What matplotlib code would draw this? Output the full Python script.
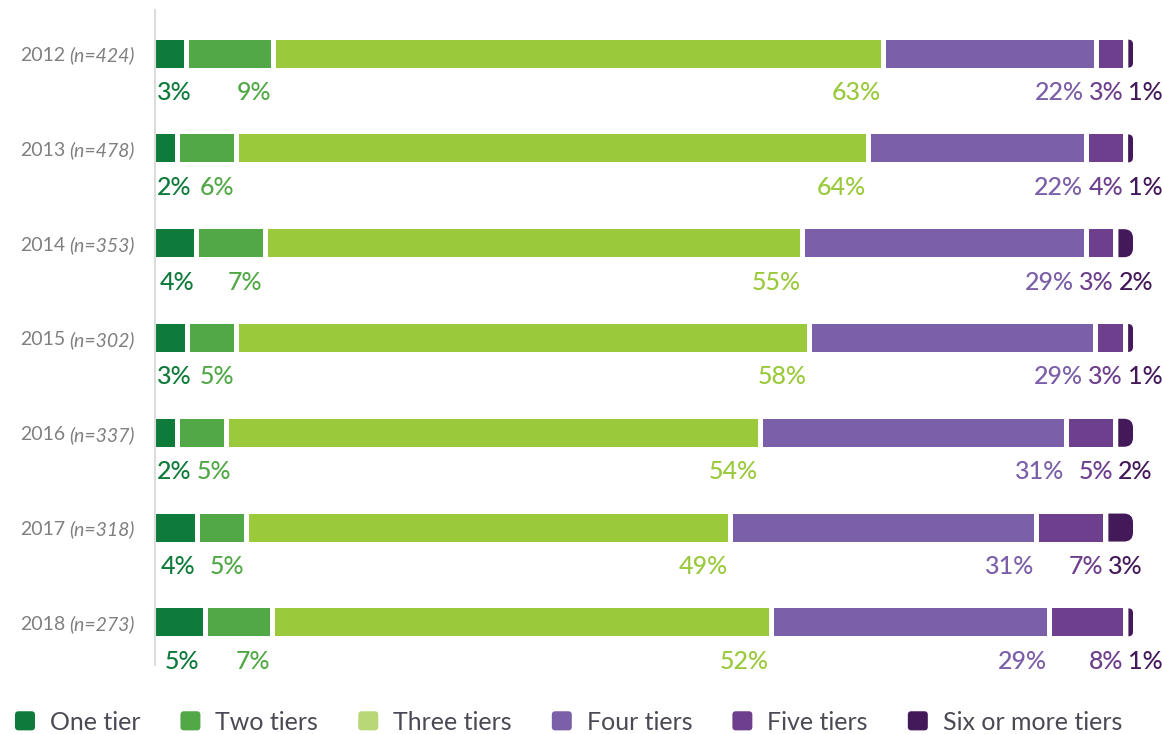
import matplotlib
matplotlib.use("Agg")
import matplotlib.pyplot as plt
from matplotlib.patches import PathPatch, FancyBboxPatch, Patch, Rectangle
from matplotlib.path import Path
from matplotlib.legend_handler import HandlerPatch
import numpy as np

plt.rcParams["font.family"] = ["Lato", "DejaVu Sans"]

# ── data ───────────────────────────────────────────
years = ["2012", "2013", "2014", "2015", "2016", "2017", "2018"]
n_counts = [424, 478, 353, 302, 337, 318, 273]
tiers = ["One tier", "Two tiers", "Three tiers", "Four tiers",
         "Five tiers", "Six or more tiers"]
one_tier = [3, 2, 4, 3, 2, 4, 5]
two_tiers = [9, 6, 7, 5, 5, 5, 7]
three_tiers = [63, 64, 55, 58, 54, 49, 52]
four_tiers = [22, 22, 29, 29, 31, 31, 29]
five_tiers = [3, 4, 3, 3, 5, 7, 8]
six_tiers = [1, 1, 2, 1, 2, 3, 1]

bar_colors = ["#0f7b3a", "#52a846", "#9aca3c", "#7b5fa8", "#6e3f8c", "#43195a"]
legend_colors = ["#0f7b3a", "#52a846", "#b8d878", "#7b5fa8", "#6e3f8c", "#43195a"]

# ── layout ─────────────────────────────────────────
W, H = 1162, 734
fig = plt.figure(figsize=(W / 100, H / 100), dpi=100)
ax = fig.add_axes([155 / W, (H - 665) / H, 978 / W, 655 / H])
ax.set_xlim(0, 100)
ax.set_ylim(6.45, -0.46)
for s in ["top", "right", "bottom"]:
    ax.spines[s].set_visible(False)
ax.spines["left"].set_color("#dcdcdc")
ax.spines["left"].set_linewidth(1.5)
ax.spines["left"].set_zorder(5)
ax.set_xticks([])
ax.set_yticks([])

px_x = 978 / 100.0
px_y = 655 / 6.91
gap = 5 / px_x
bar_h = 28 / px_y
label_dy = 39 / px_y

renderer = fig.canvas.get_renderer()
data = np.array([one_tier, two_tiers, three_tiers, four_tiers,
                 five_tiers, six_tiers], dtype=float).T

for row, vals in enumerate(data):
    shares = vals / vals.sum() * 100
    cum = np.concatenate([[0], np.cumsum(shares)])
    y0, y1 = row - bar_h / 2, row + bar_h / 2
    starts, ends = [], []
    for i, share in enumerate(shares):
        x0 = cum[i] + (gap if i > 0 else 0)
        x1 = cum[i + 1]
        starts.append(x0)
        ends.append(x1)
        if i < len(shares) - 1:
            ax.add_patch(Rectangle((x0, y0), x1 - x0, bar_h,
                                   facecolor=bar_colors[i], lw=0))
        else:
            # last segment gets rounded right corners
            r_px = min(9, (x1 - x0) * px_x)
            rx, ry = r_px / px_x, r_px / px_y
            verts = [(x0, y0), (x1 - rx, y0), (x1, y0), (x1, y0 + ry),
                     (x1, y1 - ry), (x1, y1), (x1 - rx, y1), (x0, y1), (x0, y0)]
            codes = [Path.MOVETO, Path.LINETO, Path.CURVE3, Path.CURVE3,
                     Path.LINETO, Path.CURVE3, Path.CURVE3, Path.LINETO,
                     Path.CLOSEPOLY]
            ax.add_patch(PathPatch(Path(verts, codes),
                                   facecolor=bar_colors[i], lw=0))

    # value labels below the bar, pushed apart so they don't collide
    texts, widths = [], []
    for i, v in enumerate(vals):
        t = ax.text(ends[i], row + label_dy, f"{int(v)}%", ha="right",
                    va="center", fontsize=18, fontweight="medium",
                    color=bar_colors[i])
        texts.append(t)
        widths.append(t.get_window_extent(renderer).width / px_x)
    pad = 5 / px_x
    n = len(vals)
    right = list(ends)
    right[-1] = starts[-1] + widths[-1]
    right[0] = max((starts[0] + ends[0]) / 2 + widths[0] / 2 + 3 / px_x,
                   2 / px_x + widths[0])
    for i in range(n - 2, 0, -1):
        right[i] = min(right[i], right[i + 1] - widths[i + 1] - pad)
    for i in range(1, n):
        right[i] = max(right[i], right[i - 1] + pad + widths[i])
    for t, r in zip(texts, right):
        t.set_x(r)

    # row label: year + italic sample size
    xr = -20 / px_x
    tn = ax.text(xr, row + 2 / px_y, f"(n={n_counts[row]})", ha="right",
                 va="center", fontsize=14, style="italic", color="#808080")
    wn = tn.get_window_extent(renderer).width / px_x
    ax.text(xr - wn - 4 / px_x, row + 2 / px_y, years[row], ha="right",
            va="center", fontsize=14, color="#808080")


def rounded_square(legend, orig_handle, xdescent, ydescent, width, height, fontsize):
    return FancyBboxPatch((-xdescent, -ydescent), width, height,
                          boxstyle="round,pad=0,rounding_size=2.5",
                          facecolor=orig_handle.get_facecolor(), lw=0)


handles = [Patch(facecolor=c, label=l) for c, l in zip(legend_colors, tiers)]
fs = 18
fig.legend(handles=handles, loc="center left",
           bbox_to_anchor=(15 / W, 1 - 722 / H), ncol=6, frameon=False,
           fontsize=fs, labelcolor="#4a4a55",
           handlelength=20 / (fs * 1.39), handleheight=20 / (fs * 1.39),
           handletextpad=15 / (fs * 1.39), columnspacing=40 / (fs * 1.39),
           borderpad=0, borderaxespad=0,
           handler_map={Patch: HandlerPatch(patch_func=rounded_square)})

fig.savefig("out.png", dpi=100)
